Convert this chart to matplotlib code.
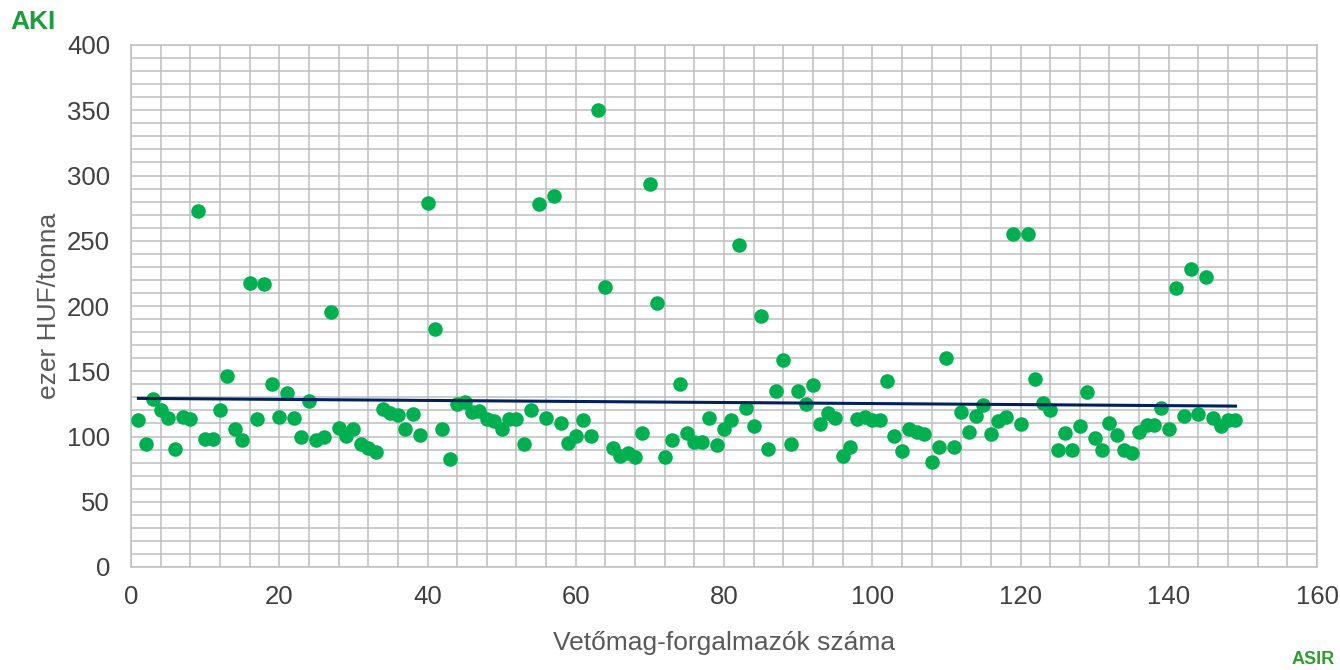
import numpy as np
import matplotlib
matplotlib.use("Agg")
import matplotlib.pyplot as plt
from matplotlib.ticker import MultipleLocator

plt.rcParams['font.family'] = ['Liberation Sans', 'DejaVu Sans']

# ezer HUF/tonna per vetőmag-forgalmazó (1..149)
prices = [
    113, 94, 129, 120, 114, 90.5, 115, 113.5, 273, 98,
    98, 120, 146, 106, 97, 218, 113.5, 217, 140.5, 115,
    133.5, 114.5, 99.5, 127, 97.5, 99.5, 195.5, 106.5, 100.5, 106,
    94, 91, 88, 121, 118, 116.5, 106, 117.5, 101, 279,
    182.5, 106, 83, 125, 126.5, 119, 119.5, 113.5, 111.5, 105.5,
    113.5, 113.5, 94.5, 120.5, 278.5, 114.5, 284, 110.5, 95, 100.5,
    113, 100.5, 350, 214.5, 91, 85, 87.5, 84.5, 103, 293.5,
    202.5, 84.5, 97.5, 140.5, 102.5, 96, 96, 114, 93.5, 106,
    113, 247, 121.5, 108, 192, 90.5, 134.5, 158.5, 94, 135,
    125, 139.5, 109.5, 118, 114, 85, 92, 113.5, 115, 112.5,
    112.5, 142.5, 100.5, 89, 105.5, 103.5, 102, 80.5, 92, 160.5,
    92, 118.5, 103.5, 116, 124.5, 102, 112, 115, 255, 109.5,
    255, 144, 126, 120, 89.5, 102.5, 90, 108, 134, 99,
    90, 110, 101.5, 89.5, 87.5, 103.5, 108.5, 108.5, 121.5, 105.5,
    214, 116, 228.5, 117, 222.5, 114.5, 108, 113, 112.5,
]
sellers = np.arange(1, len(prices) + 1)

# linear trend endpoints as shown in the chart
trend_x = [1, 149]
trend_y = [129.2, 123.3]

fig = plt.figure(figsize=(13.4, 6.7), dpi=100)
ax = fig.add_axes([131 / 1340, 1 - 567 / 670, (1317 - 131) / 1340, (567 - 45) / 670])

ax.scatter(sellers, prices, s=110, color="#00B050", zorder=3, linewidths=0)
ax.plot(trend_x, trend_y, color="#002060", linewidth=2.2, zorder=4)

ax.set_xlim(0, 160)
ax.set_ylim(0, 400)
ax.xaxis.set_major_locator(MultipleLocator(20))
ax.xaxis.set_minor_locator(MultipleLocator(4))
ax.yaxis.set_major_locator(MultipleLocator(50))
ax.yaxis.set_minor_locator(MultipleLocator(10))
ax.grid(True, which="both", color="#BFBFBF", linewidth=1.1, zorder=0)
ax.set_axisbelow(True)

for s in ax.spines.values():
    s.set_color("#BFBFBF")
    s.set_linewidth(1.1)

ax.tick_params(which="both", length=0, labelsize=18.5, colors="#404040")
ax.tick_params(axis="y", pad=15)
ax.tick_params(axis="x", pad=13)

ax.set_ylabel("ezer HUF/tonna", fontsize=19, color="#595959", labelpad=4)
ax.set_xlabel("Vetőmag-forgalmazók száma", fontsize=19, color="#595959", labelpad=16)

# logos (approximated as text)
fig.text(10 / 1340, 1 - 22 / 670, "AKI", fontsize=19, fontweight="bold",
         color="#1E9E3A", va="center", ha="left")
fig.text(1335 / 1340, 1 - 659 / 670, "ASIR", fontsize=13, fontweight="bold",
         color="#2E9E2E", va="center", ha="right")

fig.savefig("out.png", dpi=100)
